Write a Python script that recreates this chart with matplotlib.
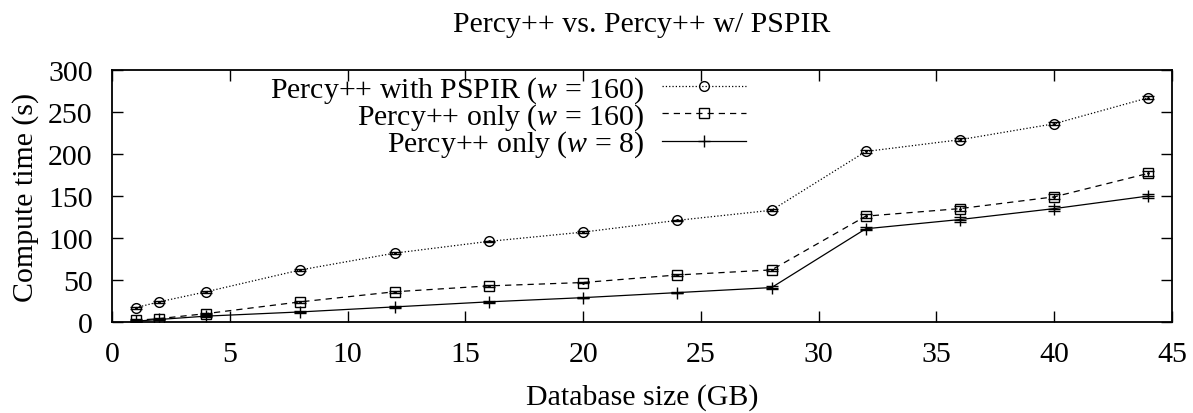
import numpy as np
import matplotlib
matplotlib.use("Agg")
import matplotlib.pyplot as plt
from matplotlib.lines import Line2D

plt.rcParams['font.family'] = ['Liberation Serif', 'DejaVu Serif']
plt.rcParams['mathtext.fontset'] = 'custom'
plt.rcParams['mathtext.it'] = 'Liberation Serif:italic'
plt.rcParams['mathtext.rm'] = 'Liberation Serif'

sizes = [1, 2, 4, 8, 12, 16, 20, 24, 28, 32, 36, 40, 44]
pspir_160 = [17, 24, 36, 62, 82, 96, 107, 121, 133, 203, 217, 236, 267]
only_160 = [2, 4, 10, 24, 36, 43, 47, 56, 62, 126, 135, 149, 177]
only_8 = [1, 3, 7, 12, 18, 24, 29, 35, 41, 111, 122, 135, 150]
err_160p = [1, 1, 1, 1, 1, 1, 1, 1, 1, 2, 2, 2, 2]
err_160 = [1, 1, 1, 1, 1, 1, 1, 1, 1, 2, 3, 3, 3]
err_8 = [1, 1, 1, 1, 1, 1, 1, 1, 2, 2, 3, 3, 2]

labels = [r'Percy++ with PSPIR ($w$ = 160)',
          r'Percy++ only ($w$ = 160)',
          r'Percy++ only ($w$ = 8)']

fs = 21.5

fig = plt.figure(figsize=(11.93, 4.14), dpi=100)
ax = fig.add_axes([0.0939, 0.2198, 0.8885, 0.6087])

styles = [
    dict(ls=':', marker='o', ms=7, mfc='none'),
    dict(ls=(0, (5, 4)), marker='s', ms=7, mfc='none'),
    dict(ls='-', marker='+', ms=9),
]
series = [(pspir_160, err_160p), (only_160, err_160), (only_8, err_8)]

handles = []
for (vals, err), st in zip(series, styles):
    ax.errorbar(sizes, vals, yerr=err, color='black', lw=0.9, mew=1,
                capsize=4, elinewidth=0.9, **st)
    if st['marker'] != '+':
        ax.plot(sizes, vals, ls='none', marker='.', ms=2, color='black')
    handles.append(Line2D([], [], color='black', lw=0.9, mew=1, **st))

ax.set_xlim(0, 45)
ax.set_ylim(0, 300)
ax.set_xticks(range(0, 46, 5))
ax.set_yticks(range(0, 301, 50))
ax.tick_params(direction='in', length=8, width=1, top=True, right=True,
               labelsize=fs, pad=14)
for s in ax.spines.values():
    s.set_linewidth(1.3)

fig.text(0.021, 0.524, 'Compute time (s)', rotation=90, ha='center', va='center',
         fontsize=fs)
fig.text(0.538, 0.0386, 'Database size (GB)', ha='center', va='center', fontsize=fs)
fig.text(0.538, 0.94, 'Percy++ vs. Percy++ w/ PSPIR', ha='center', va='center',
         fontsize=fs)

leg = ax.legend(handles, labels, loc='upper right', bbox_to_anchor=(0.602, 1.0),
                frameon=False, markerfirst=False, fontsize=fs, handlelength=2.8,
                handletextpad=0.6, labelspacing=-0.12, borderpad=0.15,
                borderaxespad=0.0)
for t in leg.get_texts():
    t.set_ha('right')
leg._legend_box.align = 'right'

fig.savefig('out.png', dpi=100)
